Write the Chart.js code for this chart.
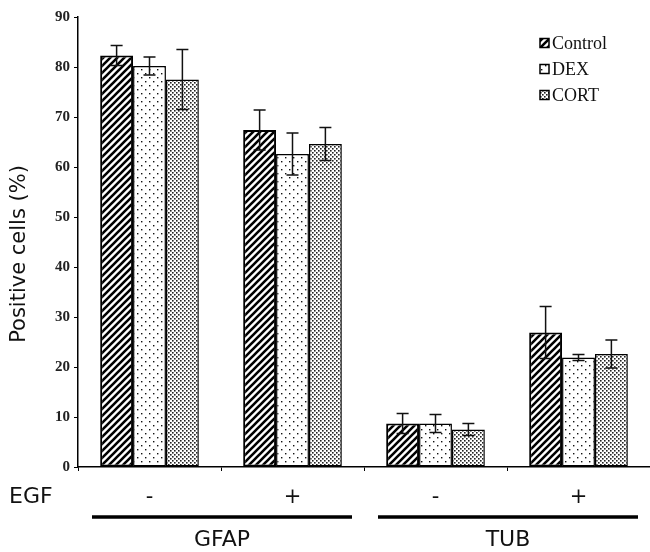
<!DOCTYPE html>
<html>
<head>
<meta charset="utf-8">
<script src="https://cdn.jsdelivr.net/npm/chart.js@4.4.0/dist/chart.umd.min.js"></script>
<style>
  html, body { margin: 0; padding: 0; background: #fff; overflow: hidden; }
  #wrap { width: 650px; height: 552px; }
</style>
</head>
<body>
<div id="wrap"><canvas id="chart" width="650" height="552"></canvas></div>
<script>
// values
const categories = ['-', '+', '-', '+'];
const groups = ['GFAP', 'TUB'];
const seriesNames = ['Control', 'DEX', 'CORT'];
const controlVals = [82.3, 67.4, 8.7, 26.9];
const dexVals = [80.2, 62.6, 8.7, 21.9];
const cortVals = [77.5, 64.6, 7.5, 22.6];
const controlErr = [2.0, 4.0, 2.0, 5.2];
const dexErr = [1.8, 4.2, 1.8, 0.6];
const cortErr = [6.0, 3.3, 1.2, 2.8];

function makePattern(kind) {
  const c = document.createElement('canvas');
  const ctx = c.getContext('2d');
  if (kind === 'hatch') {
    const s = 7;
    c.width = s; c.height = s;
    ctx.fillStyle = '#fff';
    ctx.fillRect(0, 0, s, s);
    ctx.strokeStyle = '#000';
    ctx.lineWidth = 2.6;
    ctx.beginPath();
    ctx.moveTo(-1, s + 1); ctx.lineTo(s + 1, -1);
    ctx.moveTo(-2, 2); ctx.lineTo(2, -2);
    ctx.moveTo(s - 2, s + 2); ctx.lineTo(s + 2, s - 2);
    ctx.stroke();
  } else if (kind === 'dots') {
    c.width = 8; c.height = 8;
    ctx.fillStyle = '#fff';
    ctx.fillRect(0, 0, 8, 8);
    ctx.fillStyle = '#111';
    ctx.fillRect(1, 1, 1.4, 1.4);
    ctx.fillRect(5, 5, 1.4, 1.4);
  } else {
    c.width = 4; c.height = 4;
    ctx.fillStyle = '#fff';
    ctx.fillRect(0, 0, 4, 4);
    ctx.fillStyle = '#222';
    ctx.fillRect(0, 0, 1.6, 1.6);
    ctx.fillRect(2, 2, 1.6, 1.6);
  }
  return ctx.createPattern(c, 'repeat');
}

const errors = [controlErr, dexErr, cortErr];

const errorBars = {
  id: 'errorBars',
  afterDatasetsDraw(chart) {
    const { ctx, scales: { y } } = chart;
    ctx.save();
    ctx.strokeStyle = '#111';
    ctx.lineWidth = 1.5;
    chart.data.datasets.forEach((ds, di) => {
      const meta = chart.getDatasetMeta(di);
      meta.data.forEach((bar, i) => {
        const v = ds.data[i], e = errors[di][i];
        const top = y.getPixelForValue(v + e);
        const bot = y.getPixelForValue(v - e);
        ctx.beginPath();
        ctx.moveTo(bar.x, top); ctx.lineTo(bar.x, bot);
        ctx.moveTo(bar.x - 6, top); ctx.lineTo(bar.x + 6, top);
        ctx.moveTo(bar.x - 6, bot); ctx.lineTo(bar.x + 6, bot);
        ctx.stroke();
      });
    });
    ctx.restore();
  }
};

const extras = {
  id: 'extras',
  afterDraw(chart) {
    const { ctx, scales: { x } } = chart;
    const w = x.getPixelForValue(1) - x.getPixelForValue(0);
    ctx.save();
    ctx.fillStyle = '#111';
    ctx.font = '21px "DejaVu Sans"';
    ctx.textBaseline = 'middle';
    // y title
    ctx.save();
    ctx.translate(20, 254);
    ctx.rotate(-Math.PI / 2);
    ctx.textAlign = 'center';
    ctx.fillText('Positive cells (%)', 0, 0);
    ctx.restore();
    ctx.font = '22px "DejaVu Sans"';
    ctx.textAlign = 'left';
    ctx.fillText('EGF', 9, 497);
    // group lines
    ctx.strokeStyle = '#000';
    ctx.lineWidth = 3.5;
    groups.forEach((g, gi) => {
      const left = x.getPixelForValue(gi * 2) - w / 2 + 14;
      const right = x.getPixelForValue(gi * 2 + 1) + w / 2 - 12;
      ctx.beginPath();
      ctx.moveTo(left, 517); ctx.lineTo(right, 517);
      ctx.stroke();
      ctx.textAlign = 'center';
      ctx.fillText(g, (left + right) / 2, 540);
    });
    // legend
    ctx.font = '18px "Liberation Serif"';
    ctx.textAlign = 'left';
    chart.data.datasets.forEach((ds, di) => {
      const yy = 43 + di * 26;
      ctx.fillStyle = ds.backgroundColor;
      ctx.fillRect(540, yy - 4.5, 9, 9);
      ctx.lineWidth = 1.5;
      ctx.strokeRect(540, yy - 4.5, 9, 9);
      ctx.fillStyle = '#111';
      ctx.fillText(ds.label, 552, yy + 1);
    });
    ctx.restore();
  }
};

new Chart(document.getElementById('chart'), {
  type: 'bar',
  data: {
    labels: categories,
    datasets: [
      { label: seriesNames[0], data: controlVals, backgroundColor: makePattern('hatch'), borderWidth: 2 },
      { label: seriesNames[1], data: dexVals, backgroundColor: makePattern('dots'), borderWidth: 1.5 },
      { label: seriesNames[2], data: cortVals, backgroundColor: makePattern('dense'), borderWidth: 1.5 }
    ]
  },
  options: {
    responsive: false,
    animation: false,
    layout: { padding: { top: 17, left: 0, right: 0, bottom: 0 } },
    datasets: {
      bar: { borderColor: '#000', categoryPercentage: 0.69, barPercentage: 1.0, borderSkipped: false }
    },
    plugins: {
      legend: { display: false },
      tooltip: { enabled: false }
    },
    scales: {
      x: {
        afterFit: s => { s.height = 85; },
        border: { display: true, color: '#000', width: 1.5 },
        grid: { display: true, drawOnChartArea: false, drawTicks: true, tickLength: 4, color: '#000', lineWidth: 1 },
        ticks: { color: '#111', font: { family: 'DejaVu Sans', size: 21 }, padding: 14 }
      },
      y: {
        min: 0,
        max: 90,
        afterFit: s => { s.width = 78; },
        border: { display: true, color: '#000', width: 1.5 },
        grid: { display: true, drawOnChartArea: false, drawTicks: true, tickLength: 4, color: '#000', lineWidth: 1 },
        ticks: { stepSize: 10, color: '#222', font: { family: 'Liberation Serif', size: 15, weight: 'bold' }, padding: 4 }
      }
    }
  },
  plugins: [errorBars, extras]
});
</script>
</body>
</html>
